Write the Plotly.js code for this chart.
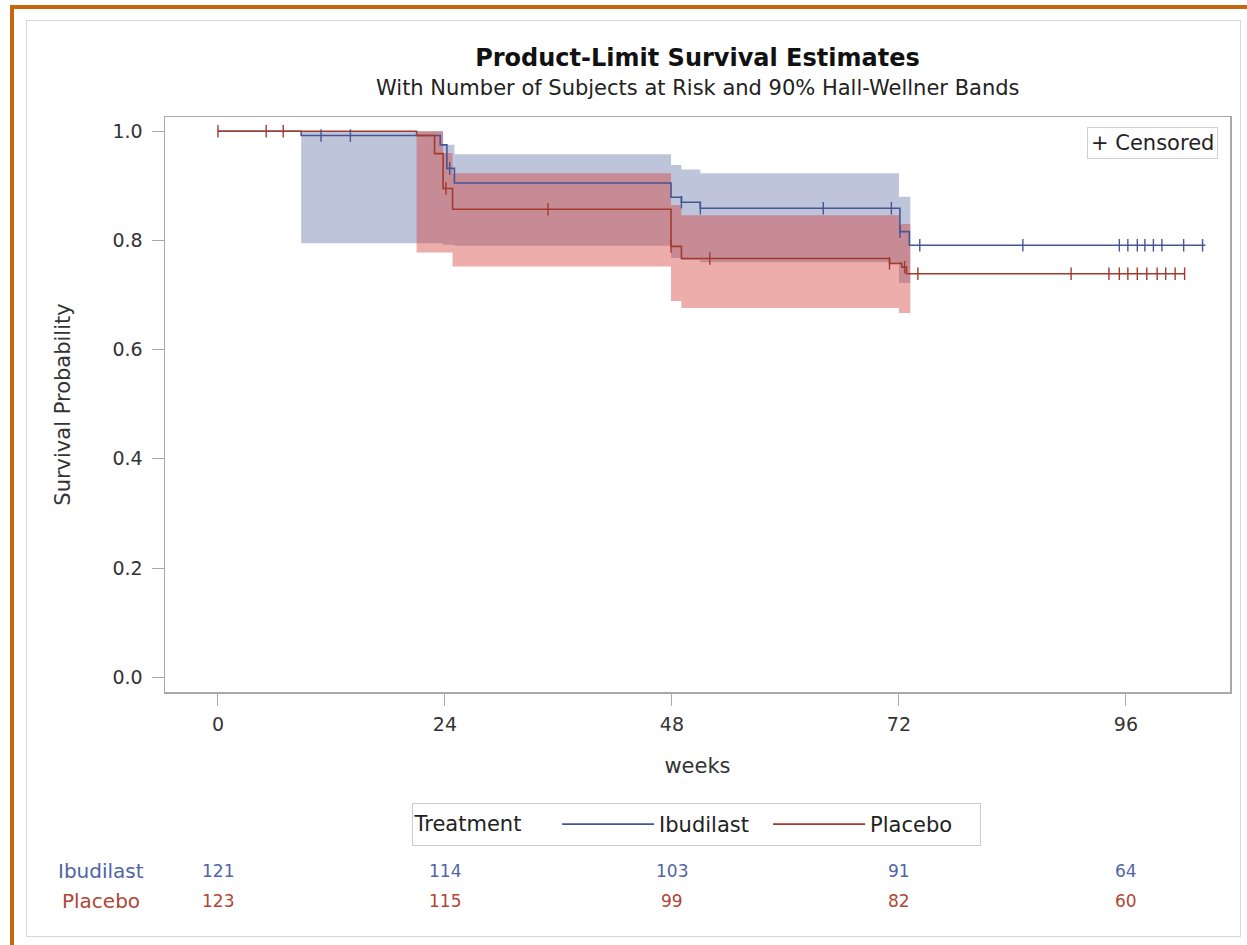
<!DOCTYPE html>
<html>
<head>
<meta charset="utf-8">
<script src="https://cdn.plot.ly/plotly-3.0.1.min.js"></script>
<style>
  html, body { margin:0; padding:0; background:#fff; width:1247px; height:945px; overflow:hidden; }
  #orange { position:absolute; left:10px; top:5px; width:1300px; height:1000px; border:4px solid #c8650f; box-sizing:border-box; }
  #inner { position:absolute; left:26px; top:20px; width:1215px; height:917px; border:1.5px solid #d8d8d8; box-sizing:border-box; }
  #chart { position:absolute; left:0; top:0; width:1247px; height:945px; }
</style>
</head>
<body>
<div id="orange"></div>
<div id="inner"></div>
<div id="chart"></div>
<script>
// ---- Data ----
const groups = ["Ibudilast", "Placebo"];

// Kaplan-Meier step functions (week, survival)
const ibuTime = [0, 8.8, 23.5, 24.2, 25.0, 47.9, 49.0, 51.0, 72.1, 73.1, 104.4];
const ibuSurv = [1.0, 0.992, 0.975, 0.932, 0.905, 0.879, 0.870, 0.859, 0.816, 0.791, 0.791];
const plaTime = [0, 21.0, 22.9, 23.8, 24.8, 47.9, 49.0, 71.0, 72.3, 72.8, 102.2];
const plaSurv = [1.0, 0.992, 0.959, 0.895, 0.857, 0.789, 0.767, 0.758, 0.751, 0.739, 0.739];

// Censored times
const ibuCens = [10.9, 14.0, 24.5, 49.0, 51.0, 64.0, 71.2, 72.1, 74.2, 85.1, 95.3, 96.2, 97.2, 98.0, 98.9, 99.8, 102.1, 104.1];
const plaCens = [0, 5.1, 6.9, 24.1, 34.9, 47.9, 52.0, 71.0, 72.6, 74.0, 90.2, 94.2, 95.3, 96.2, 97.2, 98.2, 99.3, 100.2, 101.2, 102.2];

// 90% Hall-Wellner bands
const ibuBandTime  = [8.8, 23.8, 25.0, 47.9, 49.0, 51.0, 72.0, 73.2];
const ibuBandUpper = [1.0, 0.975, 0.958, 0.938, 0.930, 0.923, 0.880, 0.880];
const ibuBandLower = [0.795, 0.792, 0.790, 0.768, 0.764, 0.760, 0.722, 0.722];
const plaBandTime  = [21.0, 23.8, 24.8, 47.9, 49.0, 72.0, 73.2];
const plaBandUpper = [1.0, 0.960, 0.923, 0.865, 0.846, 0.830, 0.830];
const plaBandLower = [0.778, 0.778, 0.752, 0.689, 0.676, 0.667, 0.667];

// Number at risk
const riskWeeks = [0, 24, 48, 72, 96];
const ibuRisk = [121, 114, 103, 91, 64];
const plaRisk = [123, 115, 99, 82, 60];

const xTicks = [0, 24, 48, 72, 96];
const yTicks = [0.0, 0.2, 0.4, 0.6, 0.8, 1.0];

// ---- Styles ----
const blue = '#445694', red = '#a23a2e';
const blueFill = 'rgba(68,86,148,0.35)', redFill = 'rgba(210,60,55,0.42)';
const blueText = '#5064a6', redText = '#b04536';
const FONT = 'DejaVu Sans, Liberation Sans, Arial, sans-serif';

function survAt(times, surv, t) {
  let v = surv[0];
  for (let i = 0; i < times.length; i++) if (times[i] <= t) v = surv[i];
  return v;
}

function band(t, lo, hi, fill) {
  return [
    {x: t, y: lo, mode:'lines', line:{shape:'hv', width:0, color:fill}, showlegend:false, hoverinfo:'skip'},
    {x: t, y: hi, mode:'lines', line:{shape:'hv', width:0, color:fill}, fill:'tonexty', fillcolor:fill, showlegend:false, hoverinfo:'skip'}
  ];
}

const traces = [
  ...band(ibuBandTime, ibuBandLower, ibuBandUpper, blueFill),
  ...band(plaBandTime, plaBandLower, plaBandUpper, redFill),
  {x: ibuTime, y: ibuSurv, name: groups[0], mode:'lines', line:{shape:'hv', color:blue, width:1.6}},
  {x: plaTime, y: plaSurv, name: groups[1], mode:'lines', line:{shape:'hv', color:red, width:1.6}},
  {x: ibuCens, y: ibuCens.map(t => survAt(ibuTime, ibuSurv, t)), mode:'markers', showlegend:false,
   marker:{symbol:'line-ns', size:9, line:{color:blue, width:1.4}}},
  {x: plaCens, y: plaCens.map(t => survAt(plaTime, plaSurv, t)), mode:'markers', showlegend:false,
   marker:{symbol:'line-ns', size:9, line:{color:red, width:1.4}}}
];

const annotations = [
  {text:'With Number of Subjects at Risk and 90% Hall-Wellner Bands', xref:'paper', yref:'paper',
   x:0.5, y:1.0504, xanchor:'center', yanchor:'middle', showarrow:false, font:{family:FONT, size:21, color:'#222'}},
  {text:'+ Censored', xref:'paper', yref:'paper', x:0.989, y:0.983, xanchor:'right', yanchor:'top',
   showarrow:false, bordercolor:'#d0d0d0', borderwidth:1, borderpad:3, font:{family:FONT, size:21, color:'#222'}},
  {text:groups[0], xref:'paper', yref:'paper', x:-0.060, y:-0.311, xanchor:'center', yanchor:'middle',
   showarrow:false, font:{family:FONT, size:20, color:blueText}},
  {text:groups[1], xref:'paper', yref:'paper', x:-0.060, y:-0.363, xanchor:'center', yanchor:'middle',
   showarrow:false, font:{family:FONT, size:20, color:redText}}
];
riskWeeks.forEach((w, i) => {
  annotations.push({text:String(ibuRisk[i]), xref:'x', yref:'paper', x:w, y:-0.311, xanchor:'center', yanchor:'middle',
    showarrow:false, font:{family:FONT, size:17, color:blueText}});
  annotations.push({text:String(plaRisk[i]), xref:'x', yref:'paper', x:w, y:-0.363, xanchor:'center', yanchor:'middle',
    showarrow:false, font:{family:FONT, size:17, color:redText}});
});

const layout = {
  width:1247, height:945,
  margin:{l:165, r:17, t:117, b:253},
  paper_bgcolor:'rgba(0,0,0,0)', plot_bgcolor:'#fff',
  font:{family:FONT, color:'#222'},
  title:{text:'<b>Product-Limit Survival Estimates</b>', x:0.5593, xanchor:'center', y:1-58/945, yanchor:'middle',
         font:{family:FONT, size:24, color:'#111'}},
  xaxis:{range:[-5.6, 107.0], tickvals:xTicks, ticktext:xTicks.map(String), ticks:'outside', ticklen:12, tickcolor:'#aaa',
         ticklabelstandoff:3,
         showline:true, linecolor:'#a8a8a8', linewidth:1.5, mirror:true, showgrid:false, zeroline:false,
         tickfont:{size:19, color:'#333'}, title:{text:'weeks', font:{size:21, color:'#333'}, standoff:24}},
  yaxis:{range:[-0.027, 1.026], tickvals:yTicks, ticktext:yTicks.map(v => v.toFixed(1)), ticks:'outside', ticklen:12, tickcolor:'#aaa',
         ticklabelstandoff:5,
         showline:true, linecolor:'#a8a8a8', linewidth:1.5, mirror:true, showgrid:false, zeroline:false,
         tickfont:{size:19, color:'#333'}, title:{text:'Survival Probability', font:{size:21, color:'#333'}, standoff:36}},
  legend:{orientation:'h', x:0.4986, xanchor:'center', y:-0.193, yanchor:'top', bordercolor:'#cccccc', borderwidth:1,
          bgcolor:'#fff', font:{size:21, color:'#222'}, title:{text:'Treatment    ', side:'left', font:{size:21, color:'#222'}},
          itemwidth:92, entrywidth:104, entrywidthmode:'pixels', traceorder:'normal'},
  annotations: annotations,
  showlegend:true
};

Plotly.newPlot('chart', traces, layout, {staticPlot:true});
</script>
</body>
</html>
